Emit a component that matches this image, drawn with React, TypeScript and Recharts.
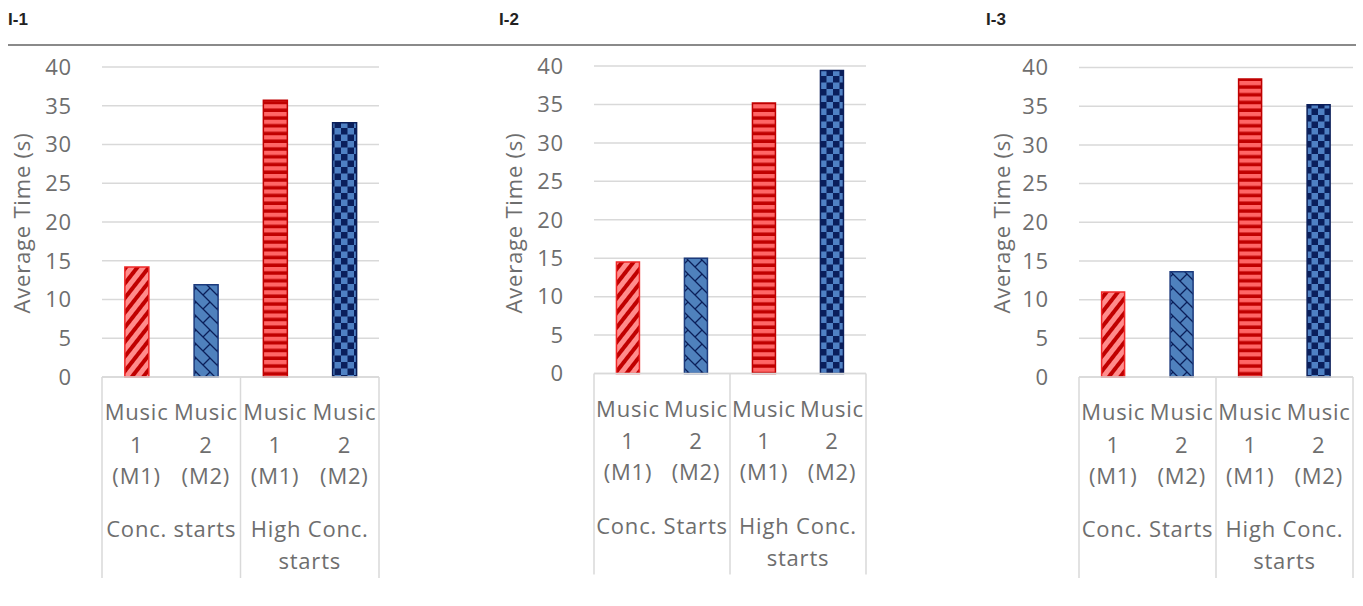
import React from 'react';
import { BarChart, Bar, Cell, XAxis, YAxis, CartesianGrid } from 'recharts';

// categories / values
const musicLabels = ['Music 1 (M1)', 'Music 2 (M2)', 'Music 1 (M1)', 'Music 2 (M2)'];
const groupsI1 = ['Conc. starts', 'Conc. starts', 'High Conc. starts', 'High Conc. starts'];
const groupsI23 = ['Conc. Starts', 'Conc. Starts', 'High Conc. starts', 'High Conc. starts'];
const timesI1 = [14.2, 11.9, 35.7, 32.8];
const timesI2 = [14.5, 15.0, 35.2, 39.4];
const timesI3 = [11.0, 13.6, 38.5, 35.2];
const yTicks = [0, 5, 10, 15, 20, 25, 30, 35, 40];
const yTitle = 'Average Time (s)';

const TXT = '#6e6e6e';
const GRID = '#d9d9d9';
const FONT = "'Open Sans', sans-serif";
const FS = 22;
const LS = 0.8;

// one pattern + border per bar position
const barFills = ['url(#pDiag)', 'url(#pBrick)', 'url(#pHoriz)', 'url(#pCheck)'];
const barStrokes = ['#f02828', '#1c3a7c', '#c00000', '#0b1f5a'];

const CHART_TOP = 50;
const MUSIC_H = 112;
const GROUP_H = 90;
const SEP_LEN = 201;

const panels = [
  { title: 'I-1', titleX: 8, plotLeft: 102, plotRight: 379, plotTop: 67, plotBottom: 377, titleCx: 21, values: timesI1, groups: groupsI1 },
  { title: 'I-2', titleX: 499, plotLeft: 594, plotRight: 866, plotTop: 66, plotBottom: 373.5, titleCx: 513, values: timesI2, groups: groupsI23 },
  { title: 'I-3', titleX: 986, plotLeft: 1079, plotRight: 1353, plotTop: 67.5, plotBottom: 377, titleCx: 1001, values: timesI3, groups: groupsI23 },
];

const musicBaselines = [43, 75.5, 106.5];
const groupBaselines = [48, 80];

function wrapWords(text: string, maxW: number) {
  const words = text.split(' ');
  const lines: string[] = [];
  let cur = '';
  for (const w of words) {
    const next = cur ? cur + ' ' + w : w;
    if (next.length * 11 > maxW && cur) {
      lines.push(cur);
      cur = w;
    } else {
      cur = next;
    }
  }
  if (cur) lines.push(cur);
  return lines;
}

function Patterns() {
  return (
    <svg width={0} height={0} style={{ position: 'absolute' }}>
      <defs>
        <pattern id="pDiag" width="9" height="9" patternUnits="userSpaceOnUse" patternTransform="rotate(38)">
          <rect width="9" height="9" fill="#ff8c8c" />
          <rect width="4" height="9" fill="#c00000" />
        </pattern>
        <pattern id="pBrick" width="14" height="14" patternUnits="userSpaceOnUse">
          <rect width="14" height="14" fill="#4f81bd" />
          <path d="M0,0 L14,14 M7,7 L14,0 M-1,13 L1,15" stroke="#0b1f5a" strokeWidth="1.3" fill="none" />
        </pattern>
        <pattern id="pHoriz" width="8" height="7.75" patternUnits="userSpaceOnUse">
          <rect width="8" height="7.75" fill="#ff6666" />
          <rect y="4.25" width="8" height="3.5" fill="#c00000" />
        </pattern>
        <pattern id="pCheck" width="13" height="13" patternUnits="userSpaceOnUse">
          <rect width="13" height="13" fill="#4f81c4" />
          <rect width="6.5" height="6.5" fill="#0a1f5c" />
          <rect x="6.5" y="6.5" width="6.5" height="6.5" fill="#0a1f5c" />
        </pattern>
      </defs>
    </svg>
  );
}

function YTick(props: any) {
  const { x, y, payload } = props;
  return (
    <text x={x} y={y} dy="0.355em" textAnchor="end" fill={TXT} fontSize={FS} fontFamily={FONT} letterSpacing={LS}>
      {payload.value}
    </text>
  );
}

function makeMusicTick(band: number, groups: string[]) {
  return function MusicTick(props: any) {
    const { x, y, payload, index } = props;
    const label = typeof payload.value === 'string' ? payload.value : musicLabels[index];
    const seps: number[] = [];
    if (index === 0 || groups[index] !== groups[index - 1]) seps.push(x - band / 2);
    if (index === groups.length - 1) seps.push(x + band / 2);
    return (
      <g>
        {seps.map((sx, i) => (
          <line key={i} x1={sx} x2={sx} y1={y} y2={y + SEP_LEN} stroke={GRID} strokeWidth={1.5} />
        ))}
        <text textAnchor="middle" fill={TXT} fontSize={FS} fontFamily={FONT} letterSpacing={LS}>
          {label.split(' ').map((w: string, i: number) => (
            <tspan key={i} x={x} y={y + musicBaselines[i]}>{w}</tspan>
          ))}
        </text>
      </g>
    );
  };
}

function makeGroupTick(groupW: number) {
  return function GroupTick(props: any) {
    const { x, y, payload } = props;
    const lines = wrapWords(String(payload.value), groupW);
    return (
      <text textAnchor="middle" fill={TXT} fontSize={FS} fontFamily={FONT} letterSpacing={LS}>
        {lines.map((l, i) => (
          <tspan key={i} x={x} y={y + groupBaselines[i]}>{l}</tspan>
        ))}
      </text>
    );
  };
}

function Panel({ p }: { p: typeof panels[number] }) {
  const yAxisW = 60;
  const plotW = p.plotRight - p.plotLeft;
  const plotH = p.plotBottom - p.plotTop;
  const band = plotW / musicLabels.length;
  const top = CHART_TOP;
  const marginTop = p.plotTop - top;
  const width = yAxisW + plotW + 4;
  const height = marginTop + plotH + MUSIC_H + GROUP_H;
  const data = musicLabels.map((m, i) => ({ music: m, group: p.groups[i], time: p.values[i] }));

  return (
    <>
      <div style={{ position: 'absolute', left: p.titleX, top: 10, fontFamily: "'Liberation Sans', Arial, sans-serif", fontWeight: 700, fontSize: 17, color: '#222', lineHeight: 1.2 }}>
        {p.title}
      </div>
      <div
        style={{
          position: 'absolute', left: p.titleCx, top: 223, transform: 'translate(-50%, -50%) rotate(-90deg)',
          whiteSpace: 'nowrap', fontFamily: FONT, fontSize: FS, letterSpacing: LS, color: TXT, lineHeight: 1,
        }}
      >
        {yTitle}
      </div>
      <div style={{ position: 'absolute', left: p.plotLeft - yAxisW, top }}>
        <BarChart width={width} height={height} data={data} barCategoryGap="33%"
          margin={{ top: marginTop, right: 4, bottom: 0, left: 0 }}>
          <CartesianGrid vertical={false} stroke={GRID} strokeWidth={1.5} />
          <XAxis dataKey="music" height={MUSIC_H} axisLine={{ stroke: GRID, strokeWidth: 1.5 }} tickLine={false}
            tickSize={0} tickMargin={0} interval={0} tick={makeMusicTick(band, p.groups)} />
          <XAxis xAxisId="grp" dataKey="group" allowDuplicatedCategory={false} height={GROUP_H} axisLine={false}
            tickLine={false} tickSize={0} tickMargin={0} interval={0} tick={makeGroupTick(band * 2)} />
          <YAxis width={yAxisW} domain={[0, 40]} ticks={yTicks} interval={0} axisLine={false} tickLine={false}
            tickSize={0} tickMargin={30} tick={<YTick />} />
          <Bar dataKey="time" isAnimationActive={false} strokeWidth={1.5}>
            {data.map((_, i) => (
              <Cell key={i} fill={barFills[i]} stroke={barStrokes[i]} />
            ))}
          </Bar>
        </BarChart>
      </div>
    </>
  );
}

export default function App() {
  return (
    <div style={{ position: 'absolute', left: 0, top: 0, width: 1363, height: 606, background: '#fff', overflow: 'hidden' }}>
      <Patterns />
      <div style={{ position: 'absolute', left: 8, top: 44, width: 1348, height: 1.5, background: '#8a8a8a' }} />
      {panels.map((p) => (
        <Panel key={p.title} p={p} />
      ))}
    </div>
  );
}
